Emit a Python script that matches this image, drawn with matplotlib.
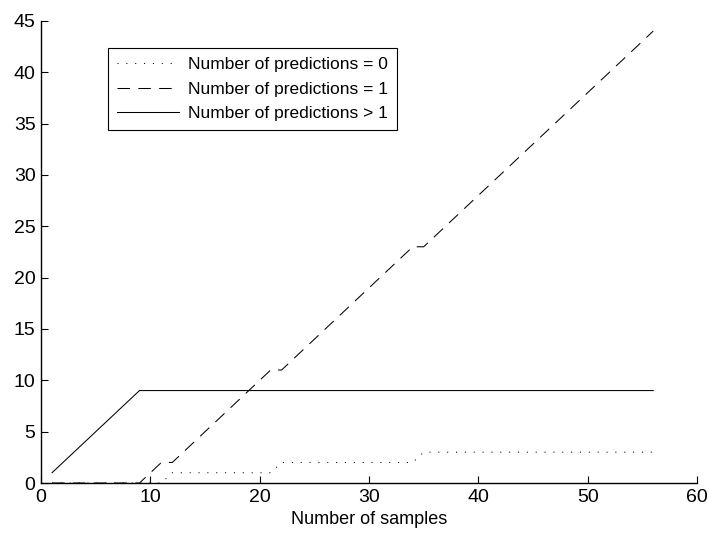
import numpy as np
import matplotlib.pyplot as plt

plt.rcParams['font.family'] = ['Liberation Sans', 'DejaVu Sans']

# number of samples seen so far
samples = list(range(1, 57))

# predictions = 0
pred_zero = [0] * 11 + [1] * 10 + [2] * 13 + [3] * 22
# predictions = 1
pred_one = ([0] * 9 + [1, 2, 2, 3, 4, 5, 6, 7, 8, 9, 10, 11, 11]
            + [12, 13, 14, 15, 16, 17, 18, 19, 20, 21, 22, 23, 23]
            + [24, 25, 26, 27, 28, 29, 30, 31, 32, 33, 34, 35, 36, 37, 38,
               39, 40, 41, 42, 43, 44])
# predictions > 1
pred_many = [1, 2, 3, 4, 5, 6, 7, 8] + [9] * 48

fig = plt.figure(figsize=(7.09, 5.34), dpi=100)
ax = fig.add_axes([0.058, 0.0955, 0.925, 0.8655])

lw = 0.75
ax.plot(samples, pred_zero, color='black', lw=lw, linestyle=(0, (1, 7.5)),
        label='Number of predictions = 0')
ax.plot(samples, pred_one, color='black', lw=lw, linestyle=(0, (12, 8)),
        label='Number of predictions = 1')
ax.plot(samples, pred_many, color='black', lw=lw, linestyle='-',
        label='Number of predictions > 1')

ax.set_xlim(0, 60)
ax.set_ylim(0, 45)
ax.set_xticks(np.arange(0, 61, 10))
ax.set_yticks(np.arange(0, 46, 5))
ax.set_xlabel('Number of samples', fontsize=13, labelpad=4)

ax.spines['top'].set_visible(False)
ax.spines['right'].set_visible(False)
ax.spines['left'].set_linewidth(1.0)
ax.spines['bottom'].set_linewidth(1.0)
ax.tick_params(direction='in', length=5, width=0.8, labelsize=14, pad=4)

leg = ax.legend(loc='upper left', bbox_to_anchor=(0.102, 0.941), fontsize=12.5,
                handlelength=3.6, handletextpad=0.5, borderpad=0.5,
                labelspacing=0.55, fancybox=False, framealpha=1,
                borderaxespad=0)
leg.get_frame().set_edgecolor('black')
leg.get_frame().set_linewidth(0.8)

fig.savefig('out.png', dpi=100)
